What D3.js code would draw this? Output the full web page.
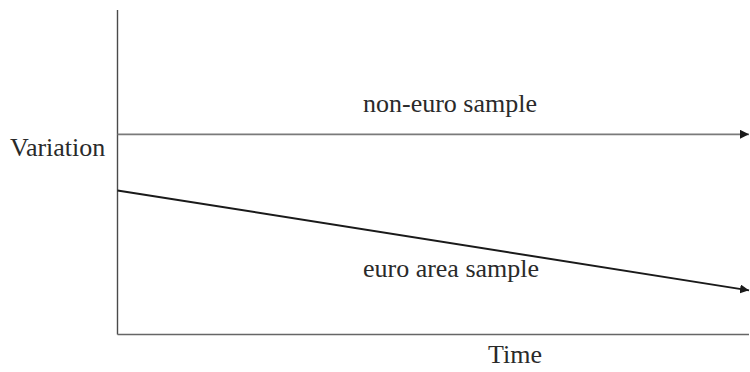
<!DOCTYPE html>
<html>
<head>
<meta charset="utf-8">
<script src="https://cdn.jsdelivr.net/npm/d3@7"></script>
<style>
html,body{margin:0;padding:0;background:#fff;}
svg{display:block;}
</style>
</head>
<body>
<div id="chart"></div>
<script>
// Data (schematic)
const timePoints = [0, 1];
const nonEuroValues = [61.7, 61.7];
const euroValues = [44.4, 13.6];
const seriesLabels = ["non-euro sample", "euro area sample"];
const axisLabels = {y: "Variation", x: "Time"};

const W = 750, H = 372;
const svg = d3.select("#chart").append("svg").attr("width", W).attr("height", H);

const x = d3.scaleLinear().domain([0, 1]).range([117.5, 749]);
const y = d3.scaleLinear().domain([0, 100]).range([334.5, 10]);

const defs = svg.append("defs");
function marker(id, color) {
  defs.append("marker").attr("id", id)
    .attr("viewBox", "0 0 10 10").attr("refX", 10).attr("refY", 5)
    .attr("markerUnits", "userSpaceOnUse")
    .attr("markerWidth", 9).attr("markerHeight", 9).attr("orient", "auto")
    .append("path").attr("d", "M0,0L10,5L0,10Z").attr("fill", color);
}
marker("arrGray", "#1a1a1a");
marker("arrDark", "#1a1a1a");

// axes (plain lines, no ticks)
svg.append("line").attr("x1", x(0)).attr("x2", x(0)).attr("y1", y(100)).attr("y2", y(0))
  .attr("stroke", "#4a4a4a").attr("stroke-width", 1.4);
svg.append("line").attr("x1", x(0)).attr("x2", x(1)).attr("y1", y(0)).attr("y2", y(0))
  .attr("stroke", "#666").attr("stroke-width", 1.5);

const line = d3.line().x(d => x(d[0])).y(d => y(d[1]));

svg.append("path").datum(d3.zip(timePoints, nonEuroValues))
  .attr("d", line).attr("fill", "none").attr("stroke", "#7a7a7a").attr("stroke-width", 1.8)
  .attr("marker-end", "url(#arrGray)");

svg.append("path").datum(d3.zip(timePoints, euroValues))
  .attr("d", line).attr("fill", "none").attr("stroke", "#1a1a1a").attr("stroke-width", 2)
  .attr("marker-end", "url(#arrDark)");

const fs = 26;
const ff = "'Liberation Serif', 'Times New Roman', serif";
function label(xp, yp, anchor, t) {
  svg.append("text").attr("x", xp).attr("y", yp).attr("text-anchor", anchor)
    .attr("font-family", ff).attr("font-size", fs).attr("fill", "#2a2a2a").text(t);
}
label(450, 112, "middle", seriesLabels[0]);
label(451, 277, "middle", seriesLabels[1]);
label(10, 156, "start", axisLabels.y);
label(515, 363, "middle", axisLabels.x);
</script>
</body>
</html>
